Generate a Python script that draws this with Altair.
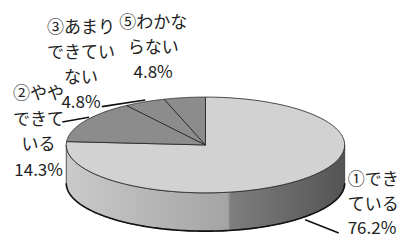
import altair as alt
import numpy as np
import pandas as pd

# ---- data ----
categories = ["①できている", "②ややできている", "③あまりできていない", "⑤わからない"]
percents = [76.2, 14.3, 4.8, 4.8]
label_lines = [["①でき", "ている"], ["②やや", "できて", "いる"], ["③あまり", "できてい", "ない"], ["⑤わかな", "らない"]]

# ---- layout (page pixels) ----
CX, CY, RX, RY, DEPTH = 208, 151, 141, 50, 40
label_x = [352, 39, 82, 155]
label_y0 = [188, 98, 29, 23.5]
line_gap = [25.5, 26.7, 26.0, 26.0]
label_align = ["left", "center", "center", "center"]
leader_x = [309, 63, 103]
leader_y = [229, 127, 111]
leader_x2 = [343, 90, 147]
leader_y2 = [243, 122, 104]

W, H = 391, 230
XDOM = [8, 403]
YDOM = [8, 245]

total = sum(percents)
rows = []
cum = 0.0
for name, v in zip(categories, percents):
    a0 = 90 - 360 * cum / total
    cum += v
    a1 = 90 - 360 * cum / total
    angs = np.linspace(a0, a1, 80)
    pts = [(CX, CY)] + [(CX + RX * np.cos(np.radians(a)), CY - RY * np.sin(np.radians(a))) for a in angs] + [(CX, CY)]
    for i, (x, y) in enumerate(pts):
        rows.append({"slice": name, "i": i, "x": x, "y": y})
slices = pd.DataFrame(rows)

# visible front side (belongs to slice ①)
side_angs = np.linspace(180, 360, 120)
top = [(CX + RX * np.cos(np.radians(a)), CY - RY * np.sin(np.radians(a))) for a in side_angs]
bot = [(x, y + DEPTH) for x, y in top[::-1]]
side_pts = top + bot + [top[0]]
side = pd.DataFrame({"i": range(len(side_pts)), "x": [p[0] for p in side_pts], "y": [p[1] for p in side_pts]})
bottom_edge = pd.DataFrame({"i": range(len(bot)), "x": [p[0] for p in bot], "y": [p[1] for p in bot]})

lab_rows = []
for k, lines in enumerate(label_lines):
    all_lines = lines + [f"{percents[k]}%"]
    for j, t in enumerate(all_lines):
        lab_rows.append({"t": t, "x": label_x[k], "y": label_y0[k] + j * line_gap[k], "al": label_align[k]})
labels = pd.DataFrame(lab_rows)
leaders = pd.DataFrame({"x": leader_x, "y": leader_y, "x2": leader_x2, "y2": leader_y2})

xs = alt.Scale(domain=XDOM, nice=False, zero=False)
ys = alt.Scale(domain=YDOM, nice=False, zero=False, reverse=True)
X = alt.X("x:Q", scale=xs, axis=None)
Y = alt.Y("y:Q", scale=ys, axis=None)

grad = alt.Gradient(
    gradient="linear",
    stops=[
        alt.GradientStop(color="#cacaca", offset=0),
        alt.GradientStop(color="#a4a4a4", offset=0.58),
        alt.GradientStop(color="#7e7e7e", offset=0.59),
        alt.GradientStop(color="#545454", offset=1),
    ],
    x1=0, x2=1, y1=0, y2=0,
)

side_layer = alt.Chart(side).mark_line(fill=grad, stroke="#333333", strokeWidth=0.8).encode(
    x=X, y=Y, order="i:Q")
bottom_layer = alt.Chart(bottom_edge).mark_line(stroke="#111111", strokeWidth=1.6).encode(
    x=X, y=Y, order="i:Q")

light = alt.Chart(slices[slices["slice"] == categories[0]]).mark_line(
    fill="#d2d2d2", stroke="#222222", strokeWidth=0.8).encode(x=X, y=Y, order="i:Q")
dark = alt.Chart(slices[slices["slice"] != categories[0]]).mark_line(
    fill="#8c8c8c", stroke="#222222", strokeWidth=0.8).encode(x=X, y=Y, order="i:Q", detail="slice:N")

lead = alt.Chart(leaders).mark_rule(color="#111111", strokeWidth=1.6).encode(
    x=X, y=Y, x2="x2:Q", y2="y2:Q")

txt_left = alt.Chart(labels[labels["al"] == "left"]).mark_text(
    align="left", baseline="middle", fontSize=17, font="Noto Sans CJK JP", color="#222222").encode(
    x=X, y=Y, text="t:N")
txt_center = alt.Chart(labels[labels["al"] == "center"]).mark_text(
    align="center", baseline="middle", fontSize=17, font="Noto Sans CJK JP", color="#222222").encode(
    x=X, y=Y, text="t:N")

chart = alt.layer(side_layer, bottom_layer, light, dark, lead, txt_left, txt_center).properties(
    width=W, height=H, padding=0, background="white",
    autosize=alt.AutoSizeParams(type="fit", contains="padding"),
).configure_view(stroke=None)

chart.save("out.html", embed_options={"renderer": "svg", "actions": False})
